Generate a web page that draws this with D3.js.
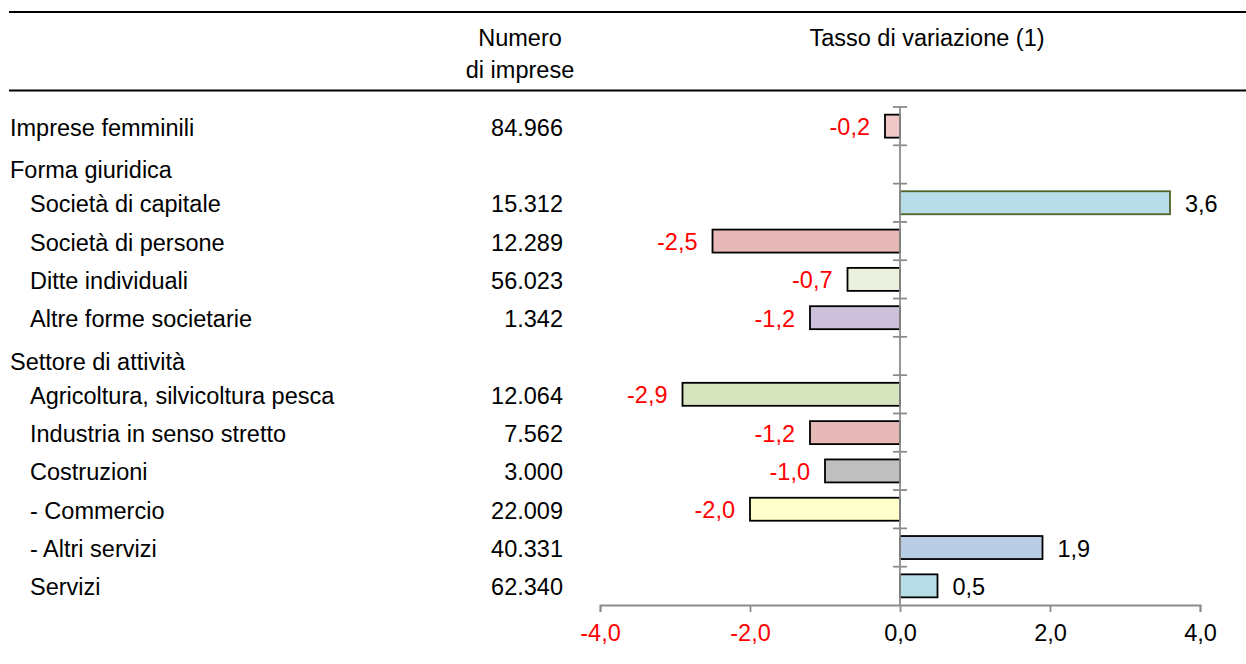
<!DOCTYPE html>
<html>
<head>
<meta charset="utf-8">
<script src="https://cdn.jsdelivr.net/npm/d3@7"></script>
<style>
  html, body { margin: 0; padding: 0; background: #fff; }
  text { font-family: "Liberation Sans", Arial, sans-serif; }
</style>
</head>
<body>
<svg id="chart" width="1246" height="664"></svg>
<script>
// ---------- data ----------
const categories = [
  "Imprese femminili",
  "Forma giuridica",
  "Società di capitale",
  "Società di persone",
  "Ditte individuali",
  "Altre forme societarie",
  "Settore di attività",
  "Agricoltura, silvicoltura pesca",
  "Industria in senso stretto",
  "Costruzioni",
  "- Commercio",
  "- Altri servizi",
  "Servizi"
];
const levels = [0, 0, 1, 1, 1, 1, 0, 1, 1, 1, 1, 1, 1];          // 0 = top level, 1 = indented
const isSection = [false, true, false, false, false, false, true, false, false, false, false, false, false];
const numImprese = [84966, null, 15312, 12289, 56023, 1342, null, 12064, 7562, 3000, 22009, 40331, 62340];
const tassoVariazione = [-0.2, null, 3.6, -2.5, -0.7, -1.2, null, -2.9, -1.2, -1.0, -2.0, 1.9, 0.5];
const barColors = ["#f0c9c8", null, "#b7dde8", "#e6b9b8", "#ebf1de", "#ccc1da", null,
                   "#d7e4bd", "#e6b9b8", "#bfbfbf", "#ffffcc", "#b9cde5", "#b7dee8"];
const barStrokes = ["#000", null, "#4f6228", "#000", "#000", "#000", null,
                    "#000", "#000", "#000", "#000", "#000", "#000"];
const axisTicks = [-4, -2, 0, 2, 4];
const headerNumero = ["Numero", "di imprese"];
const headerTasso = "Tasso di variazione (1)";

// ---------- setup ----------
const W = 1246, H = 664;
const FS = 23.5;
const svg = d3.select("#chart");
const it = d3.formatLocale({decimal: ",", thousands: ".", grouping: [3], currency: ["", "€"], minus: "-"});
const fmtInt = it.format(",d");
const fmtDec = it.format(".1f");

const y = d3.scaleBand().domain(d3.range(categories.length)).range([107, 605]).paddingInner(0.4).paddingOuter(0.2);
const yRow = d3.scaleBand().domain(d3.range(categories.length)).range([107, 605]);
const x = d3.scaleLinear().domain([-4, 4]).range([600, 1200]);

// header rules
svg.append("line").attr("x1", 9).attr("x2", W).attr("y1", 12).attr("y2", 12)
  .attr("stroke", "#000").attr("stroke-width", 2.2);
svg.append("line").attr("x1", 9).attr("x2", W).attr("y1", 90.5).attr("y2", 90.5)
  .attr("stroke", "#000").attr("stroke-width", 2.2);

// headers
svg.selectAll("text.hnum").data(headerNumero).join("text")
  .attr("class", "hnum")
  .attr("x", 520).attr("y", (d, i) => 46 + i * 32)
  .attr("text-anchor", "middle").attr("font-size", FS).attr("fill", "#000")
  .text(d => d);
svg.append("text").attr("x", 927).attr("y", 46)
  .attr("text-anchor", "middle").attr("font-size", FS).attr("fill", "#000")
  .text(headerTasso);

// row labels
const rowCenter = i => yRow(i) + yRow.bandwidth() / 2 + (isSection[i] ? 4 : 0);
svg.selectAll("text.cat").data(categories).join("text")
  .attr("class", "cat")
  .attr("x", (d, i) => levels[i] ? 30 : 10)
  .attr("y", (d, i) => rowCenter(i) + 9.5)
  .attr("font-size", FS).attr("fill", "#000")
  .text(d => d);

// numbers
svg.selectAll("text.num").data(numImprese).join("text")
  .attr("class", "num")
  .attr("x", 563)
  .attr("y", (d, i) => rowCenter(i) + 9.5)
  .attr("text-anchor", "end").attr("font-size", FS).attr("fill", "#000")
  .text(d => d == null ? "" : fmtInt(d));

// bars
const barIdx = d3.range(categories.length).filter(i => tassoVariazione[i] != null);
svg.selectAll("rect.bar").data(barIdx).join("rect")
  .attr("class", "bar")
  .attr("x", i => Math.min(x(0), x(tassoVariazione[i])))
  .attr("width", i => Math.abs(x(tassoVariazione[i]) - x(0)))
  .attr("y", i => y(i))
  .attr("height", y.bandwidth())
  .attr("fill", i => barColors[i])
  .attr("stroke", i => barStrokes[i])
  .attr("stroke-width", 1.8);

// value labels
svg.selectAll("text.val").data(barIdx).join("text")
  .attr("class", "val")
  .attr("x", i => tassoVariazione[i] < 0 ? x(tassoVariazione[i]) - 15 : x(tassoVariazione[i]) + 15)
  .attr("y", i => y(i) + y.bandwidth() / 2 + 9)
  .attr("text-anchor", i => tassoVariazione[i] < 0 ? "end" : "start")
  .attr("font-size", FS)
  .attr("fill", i => tassoVariazione[i] < 0 ? "#ff0000" : "#000")
  .text(i => fmtDec(tassoVariazione[i]));

// vertical category axis at zero
const axisColor = "#8c8c8c";
svg.append("line").attr("x1", x(0)).attr("x2", x(0)).attr("y1", 107).attr("y2", 605)
  .attr("stroke", axisColor).attr("stroke-width", 1.8);
const bounds = d3.range(categories.length).map(i => yRow(i));
svg.selectAll("line.ytick").data(bounds).join("line")
  .attr("class", "ytick")
  .attr("x1", x(0) - 7).attr("x2", x(0) + 7)
  .attr("y1", d => d).attr("y2", d => d)
  .attr("stroke", axisColor).attr("stroke-width", 1.8);

// horizontal value axis
const xAxis = d3.axisBottom(x).tickValues(axisTicks).tickSize(7).tickPadding(12)
  .tickFormat(d => fmtDec(d));
const gx = svg.append("g").attr("transform", "translate(0,605)").call(xAxis);
gx.select(".domain").attr("stroke", axisColor).attr("stroke-width", 1.8);
gx.selectAll(".tick line").attr("stroke", axisColor).attr("stroke-width", 1.8);
gx.selectAll(".tick text")
  .attr("font-size", FS)
  .attr("font-family", "Liberation Sans, Arial, sans-serif")
  .attr("fill", d => d < 0 ? "#ff0000" : "#000");
</script>
</body>
</html>
